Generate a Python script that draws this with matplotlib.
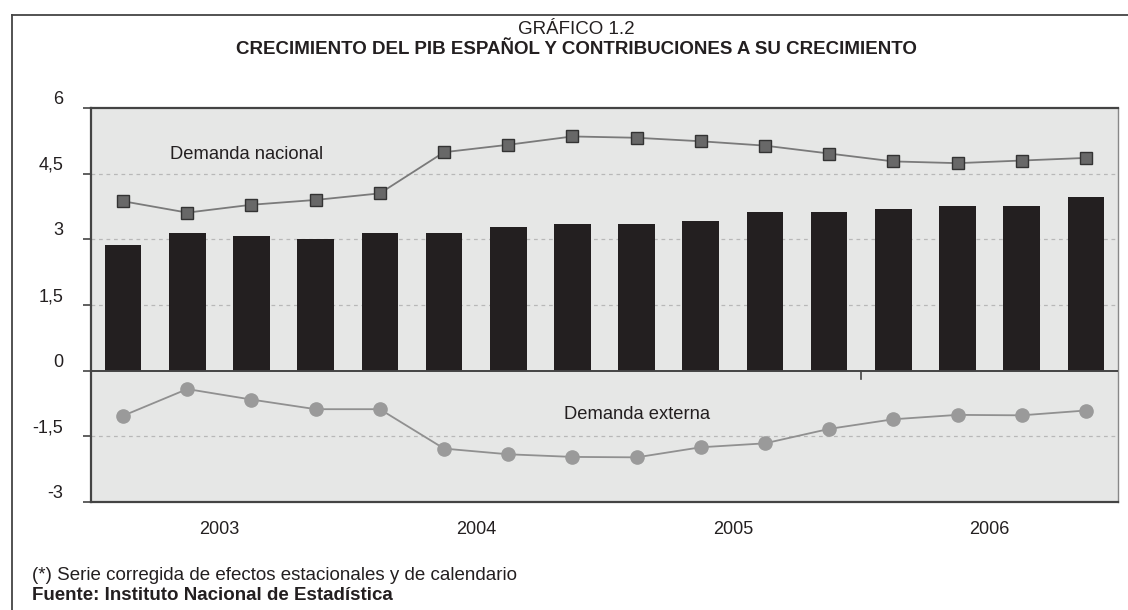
import numpy as np
import matplotlib.pyplot as plt
from matplotlib.lines import Line2D

plt.rcParams['font.family'] = ['Liberation Sans', 'DejaVu Sans']

# quarterly data 2003Q1 - 2006Q4
years = ['2003', '2004', '2005', '2006']
pib = [2.87, 3.14, 3.08, 3.01, 3.14, 3.14, 3.28, 3.35,
       3.35, 3.42, 3.62, 3.62, 3.69, 3.76, 3.76, 3.96]
demanda_nacional = [3.87, 3.61, 3.79, 3.90, 4.05, 4.99, 5.16, 5.35,
                    5.32, 5.24, 5.14, 4.96, 4.78, 4.74, 4.80, 4.86]
demanda_externa = [-1.03, -0.42, -0.66, -0.88, -0.88, -1.78, -1.91, -1.97,
                   -1.98, -1.75, -1.66, -1.33, -1.11, -1.01, -1.02, -0.91]
yticks = [-3, -1.5, 0, 1.5, 3, 4.5, 6]
ytick_labels = ['-3', '-1,5', '0', '1,5', '3', '4,5', '6']

TXT = '#231f20'

fig = plt.figure(figsize=(11.28, 6.10), dpi=100)
ax = fig.add_axes([91 / 1128, 1 - 502 / 610, (1118 - 91) / 1128, (502 - 108) / 610])
ax.set_facecolor('#e6e7e6')

x = np.arange(len(pib))
ax.bar(x, pib, width=0.57, color='#231f20', zorder=3)
ax.plot(x, demanda_nacional, color='#7a7a7a', lw=1.3, marker='s', ms=9,
        mfc='#686868', mec='#333333', mew=1.0, zorder=4)
ax.plot(x, demanda_externa, color='#909090', lw=1.3, marker='o', ms=9.5,
        mfc='#9a9a9a', mec='#9a9a9a', zorder=4)

ax.set_xlim(-0.5, len(pib) - 0.5)
ax.set_ylim(-3, 6)

for yv in [-1.5, 1.5, 3, 4.5]:
    ax.axhline(yv, color='#b8b8b8', lw=0.9, ls=(0, (3, 3)), zorder=1)
ax.axhline(0, color='#444444', lw=1.4, zorder=5)
# small separator tick below the zero line
ax.plot([11.5, 11.5], [0, -0.18], color='#444444', lw=1.2, zorder=5)

ax.set_yticks(yticks)
ax.set_yticklabels(ytick_labels)
for lab in ax.get_yticklabels():
    lab.set_verticalalignment('bottom')
ax.tick_params(axis='y', length=6, width=1.2, color='#444444', pad=14,
               labelsize=13, labelcolor=TXT)

ax.set_xticks([1.5, 5.5, 9.5, 13.5])
ax.set_xticklabels(years)
ax.tick_params(axis='x', length=0, pad=14, labelsize=13, labelcolor=TXT)

for side in ['left', 'top', 'bottom']:
    ax.spines[side].set_color('#444444')
    ax.spines[side].set_linewidth(1.6)
ax.spines['right'].set_color('#888888')
ax.spines['right'].set_linewidth(1.0)

ax.text(1.92, 4.93, 'Demanda nacional', fontsize=13.2, color=TXT,
        ha='center', va='center', zorder=6)
ax.text(8.0, -1.0, 'Demanda externa', fontsize=13.2, color=TXT,
        ha='center', va='center', zorder=6)

fig.text(576 / 1128, 1 - 29 / 610, 'GRÁFICO 1.2', fontsize=13.5, color=TXT,
         ha='center', va='center')
fig.text(576 / 1128, 1 - 50 / 610,
         'CRECIMIENTO DEL PIB ESPAÑOL Y CONTRIBUCIONES A SU CRECIMIENTO',
         fontsize=13.5, fontweight='bold', color=TXT, ha='center', va='center')

fig.text(32 / 1128, 1 - 575 / 610,
         '(*) Serie corregida de efectos estacionales y de calendario',
         fontsize=13.5, color=TXT, ha='left', va='center')
fig.text(32 / 1128, 1 - 596 / 610, 'Fuente: Instituto Nacional de Estadística',
         fontsize=13.5, fontweight='bold', color=TXT, ha='left', va='center')

# page frame (top and left edges)
fig.add_artist(Line2D([12 / 1128, 1], [1 - 15 / 610, 1 - 15 / 610],
                      color='#444444', lw=1.3))
fig.add_artist(Line2D([12 / 1128, 12 / 1128], [0, 1 - 15 / 610],
                      color='#444444', lw=1.3))

fig.savefig('out.png', dpi=100)
